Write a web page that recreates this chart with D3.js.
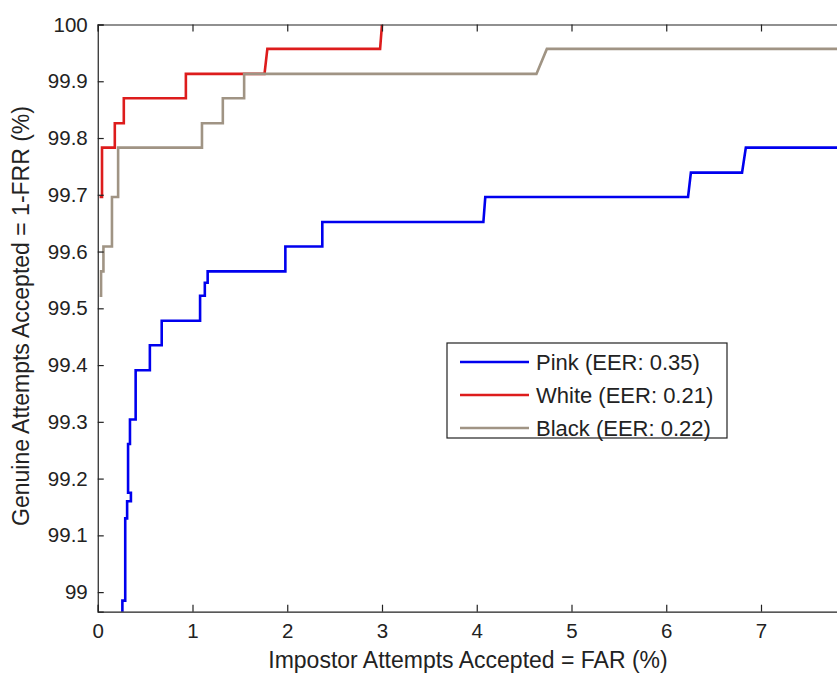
<!DOCTYPE html>
<html>
<head>
<meta charset="utf-8">
<script src="https://cdn.jsdelivr.net/npm/d3@7"></script>
<style>
  html, body { margin: 0; padding: 0; background: #fff; }
  svg { display: block; }
  text { font-family: "Liberation Sans", Arial, sans-serif; fill: #222; }
</style>
</head>
<body>
<svg id="chart" width="837" height="675"></svg>
<script>
// ---- data ----
const seriesNames = ["Pink (EER: 0.35)", "White (EER: 0.21)", "Black (EER: 0.22)"];
const seriesColors = ["#0000ee", "#dd1c1c", "#a09484"];

const pinkFAR = [0.26, 0.26, 0.29, 0.29, 0.31, 0.31, 0.35, 0.35, 0.32, 0.32, 0.34, 0.34, 0.40, 0.40, 0.55, 0.55, 0.675, 0.675, 1.08, 1.08, 1.13, 1.13, 1.16, 1.16, 1.98, 1.98, 2.37, 2.37, 4.07, 4.09, 6.23, 6.26, 6.80, 6.84, 8.0];
const pinkGAR = [98.94, 98.985, 98.985, 99.13, 99.13, 99.16, 99.16, 99.175, 99.175, 99.261, 99.261, 99.304, 99.304, 99.391, 99.391, 99.435, 99.435, 99.478, 99.478, 99.522, 99.522, 99.545, 99.545, 99.565, 99.565, 99.609, 99.609, 99.652, 99.652, 99.696, 99.696, 99.739, 99.739, 99.783, 99.783];

const whiteFAR = [0.02, 0.045, 0.045, 0.18, 0.18, 0.275, 0.275, 0.93, 0.93, 1.76, 1.79, 2.98, 3.0];
const whiteGAR = [99.696, 99.696, 99.783, 99.783, 99.826, 99.826, 99.870, 99.870, 99.913, 99.913, 99.957, 99.957, 100.0];

const blackFAR = [0.02, 0.035, 0.035, 0.06, 0.06, 0.15, 0.15, 0.215, 0.215, 1.10, 1.10, 1.32, 1.32, 1.545, 1.545, 4.63, 4.74, 8.0];
const blackGAR = [99.522, 99.522, 99.565, 99.565, 99.609, 99.609, 99.696, 99.696, 99.783, 99.783, 99.826, 99.826, 99.870, 99.870, 99.913, 99.913, 99.957, 99.957];

const xTicks = [0, 1, 2, 3, 4, 5, 6, 7];
const yTicks = [99.0, 99.1, 99.2, 99.3, 99.4, 99.5, 99.6, 99.7, 99.8, 99.9, 100.0];
const xTitle = "Impostor Attempts Accepted = FAR (%)";
const yTitle = "Genuine Attempts Accepted = 1-FRR (%)";

// ---- layout ----
const pLeft = 97.75, pTop = 24.5, pBottom = 611.7, pRight = 855.75;
const svg = d3.select("#chart");

const x = d3.scaleLinear().domain([0, 8]).range([pLeft, pRight]);
const y = d3.scaleLinear().domain([98.9655, 100]).range([pBottom, pTop]);

const series = [
  { name: seriesNames[0], color: seriesColors[0], xs: pinkFAR, ys: pinkGAR },
  { name: seriesNames[1], color: seriesColors[1], xs: whiteFAR, ys: whiteGAR },
  { name: seriesNames[2], color: seriesColors[2], xs: blackFAR, ys: blackGAR }
];

svg.append("clipPath").attr("id", "plotclip")
  .append("rect").attr("x", pLeft).attr("y", pTop).attr("width", pRight - pLeft).attr("height", pBottom - pTop);

const line = d3.line().x(d => x(d[0])).y(d => y(d[1]));

const g = svg.append("g").attr("clip-path", "url(#plotclip)");
series.forEach(s => {
  const pts = s.xs.map((v, i) => [v, s.ys[i]]);
  g.append("path").datum(pts)
    .attr("d", line)
    .attr("fill", "none")
    .attr("stroke", s.color)
    .attr("stroke-width", 2.6)
    .attr("stroke-linejoin", "miter");
});

// ---- axes (MATLAB-like box, inward ticks) ----
const fmtY = v => String(+v.toFixed(1));
const axB = d3.axisBottom(x).tickValues(xTicks).tickSize(-7).tickPadding(12).tickFormat(d3.format("d"));
const axT = d3.axisTop(x).tickValues(xTicks).tickSize(-7).tickFormat("");
const axL = d3.axisLeft(y).tickValues(yTicks).tickSize(-6).tickPadding(10).tickFormat(fmtY);

function style(sel) {
  sel.select(".domain").attr("stroke", "#222").attr("stroke-width", 1.2);
  sel.selectAll(".tick line").attr("stroke", "#222").attr("stroke-width", 1.2);
  sel.selectAll(".tick text").attr("font-size", 20.5).attr("fill", "#333")
    .style("font-family", "'Liberation Sans', Arial, sans-serif");
}
svg.append("g").attr("transform", `translate(0,${pBottom})`).call(axB).call(style);
svg.append("g").attr("transform", `translate(0,${pTop})`).call(axT).call(style);
svg.append("g").attr("transform", `translate(${pLeft},0)`).call(axL).call(style);

// axis titles
svg.append("text").attr("x", 468).attr("y", 668)
  .attr("text-anchor", "middle").attr("font-size", 23).attr("fill", "#333").text(xTitle);
svg.append("text").attr("transform", "translate(29,316) rotate(-90)")
  .attr("text-anchor", "middle").attr("font-size", 23).attr("fill", "#333").text(yTitle);

// ---- legend ----
const lg = svg.append("g");
lg.append("rect").attr("x", 447).attr("y", 343).attr("width", 280).attr("height", 95)
  .attr("fill", "#fff").attr("stroke", "#222").attr("stroke-width", 1.2);
series.forEach((s, i) => {
  const yy = 362 + i * 33;
  lg.append("line").attr("x1", 460).attr("x2", 529).attr("y1", yy).attr("y2", yy)
    .attr("stroke", s.color).attr("stroke-width", 2.6);
  lg.append("text").attr("x", 536).attr("y", yy).attr("dy", "0.36em")
    .attr("font-size", 22).attr("fill", "#333").text(s.name);
});
</script>
</body>
</html>
